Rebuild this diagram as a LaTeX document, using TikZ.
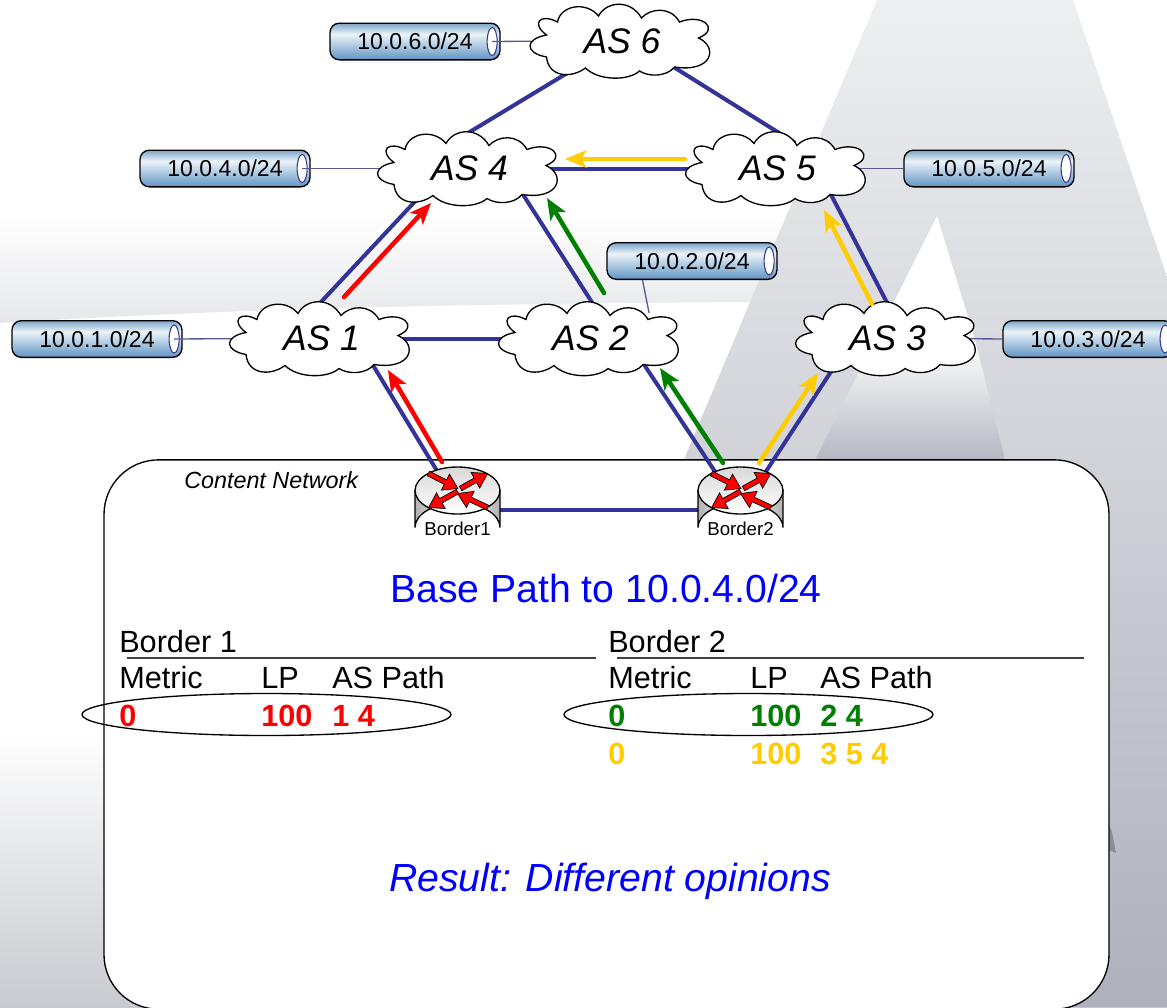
\documentclass[tikz,border=0pt]{standalone}
\usepackage{fontspec}
\setmainfont{Liberation Sans}
\usetikzlibrary{arrows.meta}

\definecolor{linkblue}{RGB}{51,51,153}
\definecolor{stubblue}{RGB}{88,88,148}
\definecolor{pipeedge}{RGB}{58,58,142}
\definecolor{pathgold}{RGB}{255,204,0}
\definecolor{pathgreen}{RGB}{0,128,0}
\definecolor{bandgrey}{RGB}{230,231,234}
\definecolor{lowgrey}{RGB}{200,202,208}
\definecolor{logotop}{RGB}{238,239,241}
\definecolor{logolow}{RGB}{174,177,188}
\definecolor{innergrey}{RGB}{181,184,194}
\definecolor{pipedark}{RGB}{95,148,196}
\definecolor{pipetop}{RGB}{122,165,201}
\definecolor{pipelight}{RGB}{236,243,249}
\definecolor{rulegrey}{RGB}{64,64,64}

\pgfdeclarelayer{bg}
\pgfsetlayers{bg,main}

\pgfdeclareverticalshading{pipeshade}{100bp}{color(0bp)=(pipedark); color(25bp)=(pipedark); color(60bp)=(pipelight); color(75bp)=(pipetop); color(100bp)=(pipetop)}

\tikzset{every picture/.style={line width=0.75pt}}
\tikzset{
  link/.style={draw=linkblue,line width=3pt},
  stub/.style={draw=stubblue,line width=1pt},
  pathline/.style={line width=3.4pt,line cap=round,-{Stealth[length=16pt,width=13pt,inset=4pt]}},
  pipe/.style={draw=black,line width=1pt,rounded corners=7pt,shade,shading=pipeshade,minimum width=127.5pt,minimum height=27.5pt,inner sep=0pt,font=\fontsize{17.25}{19}\selectfont},
  pipeend/.style={draw=pipeedge,line width=0.8pt,fill=white},
  cloudcore/.style={minimum width=90pt,minimum height=37.5pt,inner sep=0pt,font=\fontsize{26.6}{30}\selectfont\itshape},
  cloudline/.style={draw=black,line width=1pt,fill=white},
  routercore/.style={minimum width=45pt,minimum height=45pt,inner sep=0pt},
  routerlabel/.style={inner sep=0pt,font=\fontsize{14}{16}\selectfont},
  tabtext/.style={anchor=base west,inner sep=0pt,font=\fontsize{23}{26}\selectfont},
  tabbold/.style={anchor=base west,inner sep=0pt,font=\fontsize{23}{26}\selectfont\bfseries},
  bigtext/.style={anchor=base west,inner sep=0pt,text=blue,font=\fontsize{29.4}{32}\selectfont},
  pick/.style={draw=black,line width=1pt},
  tabrule/.style={draw=rulegrey,line width=1pt}
}

\newcommand{\ascloud}[3]{
  \begin{scope}[shift={(#2)}]
    \draw[cloudline] (-74,-6) .. controls (-90,-18) and (-80,-28) .. (-63,-19)
      .. controls (-60,-36) and (-34,-40) .. (-22,-25)
      .. controls (-14,-40) and (10,-42) .. (21,-23)
      .. controls (30,-33) and (50,-35) .. (59,-19)
      .. controls (82,-28) and (100,-12) .. (78,-3)
      .. controls (98,6) and (92,32) .. (54,26)
      .. controls (46,36) and (28,36) .. (19,30)
      .. controls (8,40) and (-22,40) .. (-35,27)
      .. controls (-50,38) and (-72,36) .. (-74,16)
      .. controls (-96,12) and (-96,-2) .. (-74,-6) -- cycle;
    \node[cloudcore] (#1) at (0,0) {\hspace*{2.2pt}#3};
  \end{scope}
}

\newcommand{\routerbody}[3]{
  \begin{scope}[shift={(#2)}]
    \draw[draw=black,line width=1pt,left color=black!30,right color=black!30,middle color=white]
      (-42.5,-19) -- (-42.5,18) arc [start angle=180,end angle=360,x radius=42.5,y radius=24.5] -- (42.5,-19) -- cycle;
    \draw[draw=black,line width=1pt,top color=black!15,bottom color=white] (0,-19) ellipse [x radius=42.5,y radius=23.5];
    \foreach \tx/\ty/\ang/\len in {-29/-36/27/33,3/-21/-29/31,0/-18/151/33,30/-2/205/33}{
      \draw[draw=black,line width=0.5pt,fill=red,shift={(\tx,\ty)},rotate=\ang]
        (0,-2.5) -- (\len-14,-2.5) -- (\len-14,-9) -- (\len,0) -- (\len-14,9) -- (\len-14,2.5) -- (0,2.5) -- cycle;
    }
    \node[routercore] (#1) at (0,0) {};
    \node[routerlabel] (#1label) at (0,19.5) {#3};
  \end{scope}
}

\newcommand{\prefixpipe}[3]{
  \node[pipe] (#1) at (#2) {#3};
  \draw[pipeend] ([xshift=-6.4pt]#1.east) ellipse [x radius=5,y radius=14];
  \coordinate (#1in) at ([xshift=-6.4pt]#1.east);
}

\begin{document}
\begin{tikzpicture}[x=0.75pt,y=0.75pt,yscale=-1,xscale=1]
\useasboundingbox (0,0) rectangle (1167,1007);

%clouds
\ascloud{as6}{620.5,41}{AS 6}
\ascloud{as4}{468,168.5}{AS 4}
\ascloud{as5}{776,168.5}{AS 5}
\ascloud{as1}{320,338.5}{AS 1}
\ascloud{as2}{589,338.5}{AS 2}
\ascloud{as3}{886,338.5}{AS 3}

%routers
\routerbody{border1}{457.5,509.5}{Border1}
\routerbody{border2}{740.5,509.5}{Border2}

\begin{pgfonlayer}{bg}
%background
\fill[white] (0,0) rectangle (1167,1007);
\shade[top color=white,bottom color=lowgrey] (0,730) rectangle (1167,1007);
\shade[top color=white,bottom color=bandgrey] (0,215) -- (780,215) -- (780,302) -- (750,302) .. controls (400,304) and (200,311) .. (0,323) -- cycle;
\shade[top color=logotop,bottom color=logolow] (877,0) -- (1073,0) -- (1167,277) -- (1167,1007) -- (454,1007) -- cycle;
\fill[white] (937,216) -- (875,340) -- (975,340) -- cycle;
\shade[top color=white,bottom color=innergrey] (875,340) -- (975,340) -- (1005,460) -- (815,460) -- cycle;
\fill[logolow!80!black] (1109,825) -- (1112,832) -- (1116,853) -- (1109,850) -- cycle;

%content network box
\node[draw=black,line width=1pt,fill=white,rounded corners=41pt,minimum width=753.75pt,minimum height=412pt,inner sep=0pt] (contentbox) at (606.5,734.5) {};

%prefixes
\prefixpipe{pipe6}{415,41.5}{10.0.6.0/24}
\prefixpipe{pipe4}{225,168.5}{10.0.4.0/24}
\prefixpipe{pipe5}{989,168.5}{10.0.5.0/24}
\prefixpipe{pipe2}{692,261}{10.0.2.0/24}
\prefixpipe{pipe1}{97,339}{10.0.1.0/24}
\prefixpipe{pipe3}{1088,339}{10.0.3.0/24}

\draw[stub] (pipe6in) -- (as6.west);
\draw[stub] (pipe4in) -- (as4.west);
\draw[stub] (pipe1in) -- (as1.west);
\draw[stub] (pipe5.west) -- (as5.east);
\draw[stub] (pipe3.west) -- (as3.east);
\draw[stub] (pipe2.201.9) -- (as2.23.7);

%links
\draw[link] (as6.211.7) -- (as4.123.3);
\draw[link] (as6.334.9) -- (as5.53.6);
\draw[link] (as4.east) -- (as5.west);
\draw[link] (as4.209.6) -- (as1.110.8);
\draw[link] (as4.335.9) -- (as2.69.8);
\draw[link] (as5.335.2) -- (as3.76.1);
\draw[link] (as1.east) -- (as2.west);
\draw[link] (as1.334.7) -- (border1.117.9);
\draw[link] (as2.335.6) -- (border2.124.5);
\draw[link] (as3.207.3) -- (border2.56);
\draw[link] (border1.east) -- (border2.west);
\end{pgfonlayer}

%best path arrows
\coordinate (redtailA) at (442,462);
\coordinate (redtipA) at (388,370);
\coordinate (redtailB) at (344,297);
\coordinate (redtipB) at (431,203);
\coordinate (greentailA) at (723,463);
\coordinate (greentipA) at (660,368);
\coordinate (greentailB) at (604,293);
\coordinate (greentipB) at (547,198);
\coordinate (goldtailA) at (759,463);
\coordinate (goldtipA) at (818,373);
\coordinate (goldtailB) at (872,304);
\coordinate (goldtipB) at (824,210);
\coordinate (goldtailC) at (685,159);
\coordinate (goldtipC) at (565,159);
\draw[pathline,red] (redtailA) -- (redtipA);
\draw[pathline,red] (redtailB) -- (redtipB);
\draw[pathline,pathgreen] (greentailA) -- (greentipA);
\draw[pathline,pathgreen] (greentailB) -- (greentipB);
\draw[pathline,pathgold] (goldtailA) -- (goldtipA);
\draw[pathline,pathgold] (goldtailB) -- (goldtipB);
\draw[pathline,pathgold] (goldtailC) -- (goldtipC);

% Text Node
\node[anchor=base west,inner sep=0pt,font=\fontsize{17.5}{19}\selectfont\itshape] (contentname) at (184,488) {Content Network};
\node[bigtext] (basetitle) at (390,602) {Base Path to 10.0.4.0/24};
\node[bigtext,font=\fontsize{29.4}{32}\selectfont\itshape] (resulttext) at (389,891) {Result: Different opinions};

%border 1 table
\node[tabtext] (onehead) at (119,652) {Border 1};
\draw[tabrule] (127,658) -- (596,658);
\node[tabtext] (onemetric) at (119,688) {Metric};
\node[tabtext] (onelp) at (261,688) {LP};
\node[tabtext] (onepath) at (332,688) {AS Path};
\node[tabbold,text=red] (onerowa) at (119,726) {0};
\node[tabbold,text=red] (onerowb) at (261,726) {100};
\node[tabbold,text=red] (onerowc) at (332,726) {1 4};
\draw[pick] (266.5,714.5) ellipse [x radius=184.5,y radius=21];

%border 2 table
\node[tabtext] (twohead) at (608,652) {Border 2};
\draw[tabrule] (617,658) -- (1084,658);
\node[tabtext] (twometric) at (608,688) {Metric};
\node[tabtext] (twolp) at (750,688) {LP};
\node[tabtext] (twopath) at (820,688) {AS Path};
\node[tabbold,text=pathgreen] (tworowa) at (608,726) {0};
\node[tabbold,text=pathgreen] (tworowb) at (750,726) {100};
\node[tabbold,text=pathgreen] (tworowc) at (820,726) {2 4};
\node[tabbold,text=pathgold] (tworowd) at (608,764) {0};
\node[tabbold,text=pathgold] (tworowe) at (750,764) {100};
\node[tabbold,text=pathgold] (tworowf) at (820,764) {3 5 4};
\draw[pick] (748.5,714.5) ellipse [x radius=184.5,y radius=21];

\end{tikzpicture}
\end{document}
